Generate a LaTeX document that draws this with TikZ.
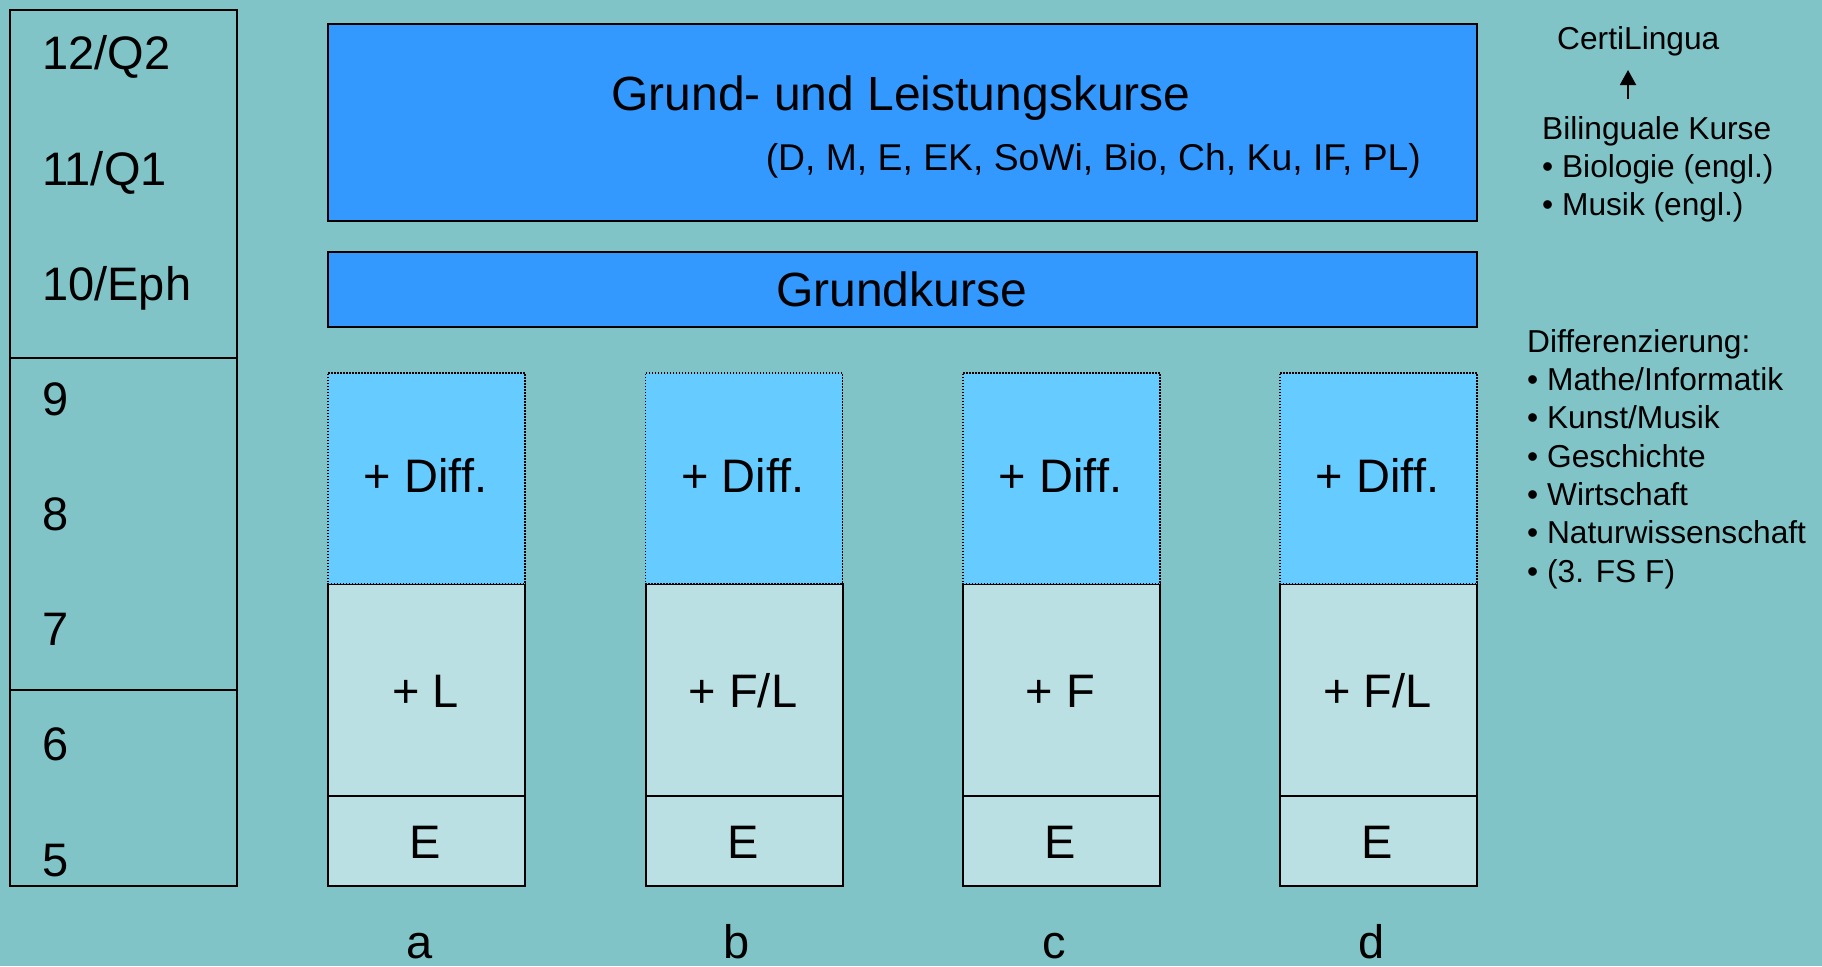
\documentclass[tikz,border=0pt]{standalone}
\usepackage{fontspec}
\setmainfont{Liberation Sans}
\usetikzlibrary{arrows.meta}
\definecolor{bg}{HTML}{80C4C8}
\definecolor{dblue}{HTML}{3399FF}
\definecolor{lblue}{HTML}{66CCFF}
\definecolor{pale}{HTML}{BBE0E3}
\newcommand\mkcol[4]{%
  \node[box, fill=pale, minimum width=197pt, minimum height=90pt] (E#2) at (#1,795) {};
  \node[box, fill=pale, minimum width=197pt, minimum height=212pt] (L#2) at (#1,583) {};
  \node[diffbox, minimum width=197pt, minimum height=211pt] (D#2) at (#1,372) {};
  \node[big, anchor=base] (tD#2) at ({#1+98.5},492) {+ Diff.};
  \node[big, anchor=base] (tL#2) at ({#1+98.5},707) {#3};
  \node[big, anchor=base] (tE#2) at ({#1+98.5},858) {E};
  \node[big, anchor=base, text depth=0pt] (lab#2) at ({#1+92.5},958) {#4};
}
\begin{document}
\begin{tikzpicture}[x=1pt,y=-1pt,
  box/.style={draw=black, line width=2pt, rectangle, inner sep=0pt, anchor=north west},
  diffbox/.style={box, fill=lblue, line width=1.5pt, dash pattern=on 1.5pt off 1.5pt},
  big/.style={font=\fontsize{47}{56}\selectfont, inner sep=0pt},
  huge/.style={font=\fontsize{48}{57}\selectfont, inner sep=0pt},
  midf/.style={font=\fontsize{37.3}{44}\selectfont, inner sep=0pt},
  small/.style={font=\fontsize{31.7}{38}\selectfont, inner sep=0pt, anchor=base west}]
\useasboundingbox[fill=bg] (0,0) rectangle (1822,966);

% left grade column
\node[box, minimum width=227pt, minimum height=348pt] (sek2) at (9,9) {};
\node[box, minimum width=227pt, minimum height=332pt] (sek1) at (9,357) {};
\node[box, minimum width=227pt, minimum height=196pt] (erp) at (9,689) {};
\node[big, anchor=base west] (g12) at (42,70) {12/Q2};
\node[big, anchor=base west] (g11) at (42,185) {11/Q1};
\node[big, anchor=base west] (g10) at (42,300) {10/Eph};
\node[big, anchor=base west] (g9) at (42,415) {9};
\node[big, anchor=base west] (g8) at (42,530) {8};
\node[big, anchor=base west] (g7) at (42,645) {7};
\node[big, anchor=base west] (g6) at (42,760) {6};
\node[big, anchor=base west] (g5) at (42,876) {5};

% upper boxes
\node[box, fill=dblue, minimum width=1149pt, minimum height=197pt] (lk) at (327,23) {};
\node[huge, anchor=base] (tlk) at (901,110) {Grund- und Leistungskurse};
\node[midf, anchor=base east] (tlk2) at (1421,170) {(D, M, E, EK, SoWi, Bio, Ch, Ku, IF, PL)};
\node[box, fill=dblue, minimum width=1149pt, minimum height=75pt] (gk) at (327,251) {};
\node[huge, anchor=base] (tgk) at (901.5,306) {Grundkurse};

% columns
\mkcol{327}{a}{+ L}{a}
\mkcol{644.5}{b}{+ F/L}{b}
\mkcol{962}{c}{+ F}{c}
\mkcol{1279}{d}{+ F/L}{d}

% right side
\node[small] (certi) at (1557,49) {CertiLingua};
\coordinate (arrS) at (1628,99);
\coordinate (arrT) at (1628,70);
\draw[line width=2pt, -{Triangle[width=16pt,length=15pt]}] (arrS) -- (arrT);
\node[small] (bil) at (1542,139) {Bilinguale Kurse};
\node[small] (bil1) at (1542,177) {• Biologie (engl.)};
\node[small] (bil2) at (1542,215) {• Musik (engl.)};
\node[small] (dif) at (1527,352) {Differenzierung:};
\node[small] (dif1) at (1527,390) {• Mathe/Informatik};
\node[small] (dif2) at (1527,428) {• Kunst/Musik};
\node[small] (dif3) at (1527,467) {• Geschichte};
\node[small] (dif4) at (1527,505) {• Wirtschaft};
\node[small] (dif5) at (1527,543) {• Naturwissenschaft};
\node[small] (dif6) at (1527,582) {• (3. FS F)};
\end{tikzpicture}
\end{document}
